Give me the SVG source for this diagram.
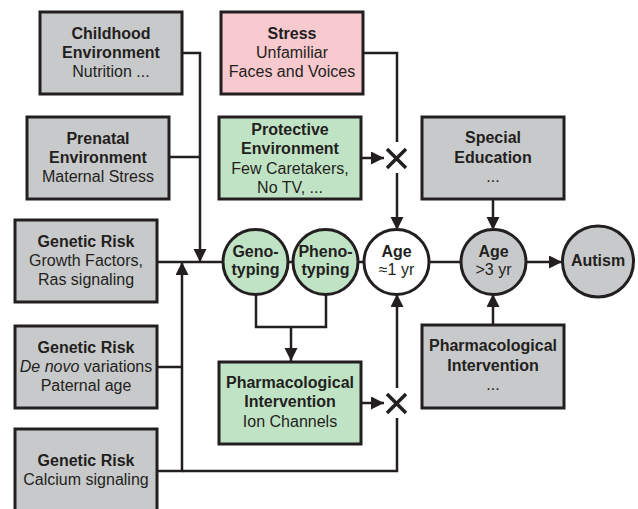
<svg xmlns="http://www.w3.org/2000/svg" width="638" height="509" viewBox="0 0 638 509">
<style>
.box{stroke:#231f20;stroke-width:3}
.gray{fill:#c8c9cb}
.pink{fill:#f8c9cf}
.green{fill:#c1e3c5}
.white{fill:#ffffff}
text{font-family:"Liberation Sans",Arial,sans-serif;font-size:16px;fill:#231f20;text-anchor:middle}
.b{font-weight:bold}
.c{fill:none;stroke:#231f20;stroke-width:2.5}
.x{fill:none;stroke:#231f20;stroke-width:3.5}
</style>
<defs>
<marker id="ah" markerUnits="userSpaceOnUse" markerWidth="14" markerHeight="14" refX="13" refY="6.5" orient="auto">
<path d="M0,0 L13,6.5 L0,13 z" fill="#231f20"/>
</marker>
</defs>
<rect width="638" height="509" fill="#ffffff"/>

<g id="connectors">
<path class="c" d="M182,53 H200 V262" marker-end="url(#ah)"/>
<path class="c" d="M169,157 H200"/>
<path class="c" d="M157,262 H223"/>
<path class="c" d="M157,471 H182 V262" marker-end="url(#ah)"/>
<path class="c" d="M157,367 H182"/>
<path class="c" d="M182,471 H397 V418"/>
<path class="c" d="M397,388 V294" marker-end="url(#ah)"/>
<path class="c" d="M361,403 H384" marker-end="url(#ah)"/>
<path class="c" d="M363,53 H397 V142"/>
<path class="c" d="M397,173 V230" marker-end="url(#ah)"/>
<path class="c" d="M361,158 H384" marker-end="url(#ah)"/>
<path class="c" d="M288,262 H293"/>
<path class="c" d="M358,262 H364"/>
<path class="c" d="M429,262 H461"/>
<path class="c" d="M526,262 H562" marker-end="url(#ah)"/>
<path class="c" d="M493,199 V230" marker-end="url(#ah)"/>
<path class="c" d="M493,325 V294" marker-end="url(#ah)"/>
<path class="c" d="M256,294 V327 H326 V294"/>
<path class="c" d="M291,327 V361" marker-end="url(#ah)"/>
<path class="x" d="M387,149 L406,168 M406,149 L387,168"/>
<path class="x" d="M387,394 L406,413 M406,394 L387,413"/>
</g>

<g id="childhood">
<rect class="box gray" x="40" y="12" width="142" height="82"/>
<text class="b" x="111" y="39">Childhood</text>
<text class="b" x="111" y="58">Environment</text>
<text x="111" y="77">Nutrition ...</text>
</g>
<g id="prenatal">
<rect class="box gray" x="27" y="117" width="142" height="82"/>
<text class="b" x="98" y="144">Prenatal</text>
<text class="b" x="98" y="163">Environment</text>
<text x="98" y="182">Maternal Stress</text>
</g>
<g id="genetic1">
<rect class="box gray" x="15" y="220" width="142" height="82"/>
<text class="b" x="86" y="247">Genetic Risk</text>
<text x="86" y="266">Growth Factors,</text>
<text x="86" y="285">Ras signaling</text>
</g>
<g id="genetic2">
<rect class="box gray" x="15" y="326" width="142" height="82"/>
<text class="b" x="86" y="353">Genetic Risk</text>
<text x="86" y="372"><tspan font-style="italic">De novo</tspan> variations</text>
<text x="86" y="391">Paternal age</text>
</g>
<g id="genetic3">
<rect class="box gray" x="15" y="429" width="142" height="84"/>
<text class="b" x="86" y="466">Genetic Risk</text>
<text x="86" y="485">Calcium signaling</text>
</g>
<g id="stress">
<rect class="box pink" x="221" y="12" width="142" height="82"/>
<text class="b" x="292" y="39">Stress</text>
<text x="292" y="58">Unfamiliar</text>
<text x="292" y="77">Faces and Voices</text>
</g>
<g id="protective">
<rect class="box green" x="219" y="117" width="142" height="82"/>
<text class="b" x="290" y="135">Protective</text>
<text class="b" x="290" y="154">Environment</text>
<text x="290" y="174">Few Caretakers,</text>
<text x="290" y="193">No TV, ...</text>
</g>
<g id="special">
<rect class="box gray" x="422" y="117" width="142" height="82"/>
<text class="b" x="493" y="143">Special</text>
<text class="b" x="493" y="163">Education</text>
<text x="493" y="182">...</text>
</g>
<g id="genotyping">
<circle class="box green" cx="255.5" cy="262" r="32.5"/>
<text class="b" x="255.5" y="257">Geno-</text>
<text class="b" x="255.5" y="275">typing</text>
</g>
<g id="phenotyping">
<circle class="box green" cx="325.5" cy="262" r="32.5"/>
<text class="b" x="325.5" y="257">Pheno-</text>
<text class="b" x="325.5" y="275">typing</text>
</g>
<g id="age1">
<circle class="box white" cx="396.5" cy="262" r="32.5"/>
<text class="b" x="396.5" y="257">Age</text>
<text x="396.5" y="275">≈1 yr</text>
</g>
<g id="age3">
<circle class="box gray" cx="493.5" cy="262" r="32.5"/>
<text class="b" x="493.5" y="257">Age</text>
<text x="493.5" y="275">&gt;3 yr</text>
</g>
<g id="autism">
<circle class="box gray" cx="598" cy="261.5" r="35.5"/>
<text class="b" x="598" y="266">Autism</text>
</g>
<g id="pharm-green">
<rect class="box green" x="219" y="362" width="142" height="82"/>
<text class="b" x="290" y="388">Pharmacological</text>
<text class="b" x="290" y="407">Intervention</text>
<text x="290" y="427">Ion Channels</text>
</g>
<g id="pharm-gray">
<rect class="box gray" x="422" y="325" width="142" height="83"/>
<text class="b" x="493" y="351">Pharmacological</text>
<text class="b" x="493" y="371">Intervention</text>
<text x="493" y="390">...</text>
</g>
</svg>
